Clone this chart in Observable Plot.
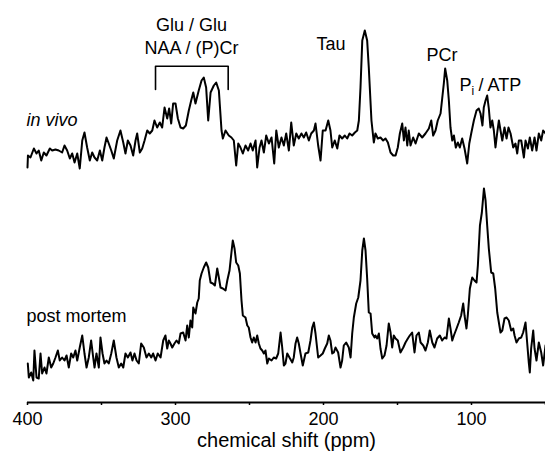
<!DOCTYPE html>
<html><head><meta charset="utf-8">
<script src="https://cdn.jsdelivr.net/npm/d3@7"></script>
<script src="https://cdn.jsdelivr.net/npm/@observablehq/plot@0.6"></script>
<style>
html,body{margin:0;padding:0;background:#fff;}
#chart svg{display:block;}
</style></head><body><div id="chart"></div>
<script>
// [chemical shift (ppm), intensity (a.u., relative to trace baseline)]
const inVivo = [[400.0,-15],[399.7,-3],[398.0,-5],[395.7,4],[393.9,-1],[392.4,2],[390.7,-8],[389.0,0],[387.2,-3],[384.9,4],[383.3,2],[381.1,3],[378.9,2],[376.6,0],[375.0,7],[373.2,2],[371.4,-6],[369.8,-1],[368.2,-10],[366.4,-1],[364.7,-16],[363.0,12],[361.5,20],[359.7,5],[357.9,-8],[356.3,0],[354.7,-5],[352.9,-8],[351.1,2],[349.5,-8],[348.0,5],[346.6,15],[345.1,9],[343.4,2],[341.7,-6],[339.4,12],[337.2,22],[335.3,10],[333.8,-1],[332.2,12],[330.4,7],[328.6,-3],[327.0,12],[325.9,19],[324.1,0],[322.5,4],[320.9,12],[319.1,22],[317.4,19],[315.7,22],[314.2,32],[312.4,25],[310.6,30],[309.0,25],[307.4,45],[305.6,34],[304.3,44],[302.9,29],[301.6,49],[300.0,49],[298.4,34],[296.6,25],[294.8,24],[293.0,27],[291.0,42],[289.4,52],[288.0,60],[286.5,49],[284.3,62],[282.4,72],[280.9,75],[279.3,65],[277.9,32],[276.3,60],[274.1,67],[272.5,70],[270.7,62],[268.9,22],[268.0,14],[266.2,22],[264.0,17],[262.2,15],[260.6,12],[259.0,-13],[257.6,9],[256.1,5],[254.5,-1],[252.7,7],[250.9,2],[249.3,9],[247.8,2],[245.9,12],[244.8,-15],[243.2,5],[241.9,12],[240.3,0],[238.7,17],[236.9,9],[235.1,15],[233.3,-11],[231.9,22],[230.2,5],[228.4,15],[226.8,7],[225.2,19],[223.4,2],[221.8,30],[220.1,7],[218.4,19],[216.7,14],[214.9,19],[213.3,15],[211.7,20],[209.9,12],[208.3,19],[206.5,22],[205.4,29],[203.6,7],[202.0,-8],[200.5,22],[198.6,22],[196.8,32],[195.3,22],[194.1,5],[192.4,12],[190.7,4],[189.2,17],[187.4,14],[185.6,17],[184.0,14],[182.4,19],[180.6,17],[178.8,20],[177.2,22],[176.1,32],[175.0,65],[173.8,112],[172.1,122],[170.5,112],[169.4,85],[167.6,32],[166.0,10],[164.9,19],[163.3,14],[161.5,15],[159.7,12],[158.1,14],[156.5,10],[154.7,0],[152.9,-3],[151.3,-3],[149.8,5],[148.4,19],[146.8,29],[145.7,12],[144.6,25],[143.4,7],[142.4,22],[141.2,7],[139.4,15],[137.8,9],[135.6,19],[133.3,15],[131.1,19],[128.8,24],[127.2,32],[125.9,17],[124.3,22],[122.8,32],[120.9,39],[119.8,54],[118.7,69],[117.8,84],[116.4,72],[115.3,52],[114.2,25],[113.0,12],[111.9,17],[110.6,5],[109.2,10],[107.9,5],[106.3,14],[104.7,4],[102.9,-11],[101.5,9],[100.2,19],[98.4,32],[96.6,42],[95.1,44],[93.9,39],[92.6,27],[91.7,45],[90.5,52],[89.4,57],[88.3,44],[87.2,25],[86.0,32],[84.9,22],[83.8,5],[82.6,20],[81.5,32],[80.4,22],[79.2,12],[77.7,25],[76.3,14],[75.0,25],[73.6,19],[71.8,5],[70.3,9],[69.1,-1],[68.0,12],[66.4,12],[64.6,-5],[63.5,12],[61.9,4],[60.6,15],[59.0,2],[57.4,15],[56.1,2],[54.5,19],[52.9,12],[51.6,22],[50.0,19]];

const postMortem = [[399.8,9],[399.1,-5],[397.5,0],[396.1,-8],[395.3,22],[393.9,-5],[392.4,-6],[391.2,19],[390.1,-1],[388.5,5],[387.2,-1],[385.6,15],[384.0,5],[382.6,9],[381.1,15],[379.5,22],[378.2,12],[376.6,15],[375.0,12],[373.6,17],[372.1,5],[370.5,19],[369.1,15],[367.6,22],[366.4,12],[364.7,25],[363.0,37],[361.5,19],[360.1,5],[358.6,15],[357.0,32],[355.6,15],[354.7,5],[353.4,19],[351.8,5],[350.7,35],[349.3,19],[348.0,9],[346.6,12],[345.1,9],[343.4,19],[341.7,32],[339.9,15],[338.3,5],[336.7,9],[335.3,5],[333.8,19],[332.2,15],[330.4,20],[329.1,12],[327.7,19],[326.3,12],[324.8,9],[323.2,29],[321.4,25],[319.6,15],[318.0,19],[316.4,15],[315.1,19],[313.5,12],[312.0,19],[310.1,15],[308.3,32],[306.8,37],[305.6,24],[304.5,32],[303.4,29],[302.2,25],[300.7,29],[299.3,32],[297.8,29],[296.6,39],[294.8,40],[293.2,32],[292.1,47],[291.0,35],[289.9,52],[288.7,45],[288.0,65],[286.5,59],[285.3,70],[284.3,74],[283.6,92],[282.4,99],[280.9,105],[279.3,110],[277.9,105],[276.3,90],[274.8,89],[273.4,87],[271.8,104],[270.7,95],[269.6,85],[268.0,84],[266.2,82],[265.0,92],[263.5,102],[262.2,120],[261.3,132],[260.1,124],[259.0,110],[257.6,107],[256.5,99],[255.4,72],[254.5,57],[252.7,55],[251.5,47],[250.5,45],[249.3,35],[248.2,30],[247.1,35],[245.9,30],[244.8,37],[243.7,29],[242.6,24],[241.4,22],[240.3,19],[239.2,22],[238.0,9],[236.9,14],[235.1,12],[233.6,15],[232.0,14],[230.6,19],[229.0,40],[227.9,25],[226.8,7],[225.7,9],[224.5,19],[223.0,15],[221.1,10],[220.1,15],[218.9,29],[217.8,35],[216.7,29],[215.5,19],[214.0,7],[212.2,19],[210.3,20],[208.8,32],[207.6,45],[206.5,50],[205.4,39],[203.6,15],[202.0,17],[200.5,19],[199.1,24],[197.5,29],[196.4,37],[195.3,32],[194.1,19],[193.0,20],[191.9,25],[190.1,20],[188.5,5],[187.4,12],[186.3,27],[184.7,30],[182.9,25],[181.7,15],[180.6,39],[179.5,55],[177.9,69],[176.5,75],[175.0,92],[173.8,122],[172.7,134],[171.6,122],[170.5,94],[169.4,60],[168.2,59],[167.1,39],[165.5,35],[164.9,37],[163.7,34],[162.6,39],[161.5,24],[160.3,14],[158.8,17],[157.4,27],[155.9,49],[154.7,40],[153.6,25],[152.5,37],[151.3,34],[149.8,32],[148.0,20],[146.1,25],[144.6,30],[143.0,34],[141.7,37],[140.1,40],[138.5,20],[137.2,37],[135.6,40],[134.4,30],[132.6,27],[131.1,22],[129.5,30],[128.2,42],[126.5,30],[125.0,25],[123.2,34],[121.4,37],[119.8,32],[118.2,35],[116.9,34],[115.3,54],[114.2,44],[113.0,32],[111.9,37],[110.1,44],[108.6,50],[107.0,57],[105.6,69],[104.7,57],[103.4,44],[102.5,57],[101.1,84],[99.5,95],[98.0,92],[96.6,90],[95.7,107],[94.3,147],[93.0,160],[91.6,184],[90.5,172],[89.4,147],[88.3,124],[86.7,100],[85.3,99],[84.0,84],[82.6,60],[81.5,50],[80.4,40],[79.2,42],[77.7,54],[76.3,55],[74.8,52],[73.2,42],[71.8,44],[70.9,37],[69.6,30],[68.0,34],[66.4,35],[65.1,40],[63.5,50],[62.4,30],[61.3,10],[60.6,0],[59.7,24],[58.3,42],[57.4,24],[56.1,12],[54.5,30],[52.9,20],[51.6,7],[50.0,27]];

const xTicks = [400, 350, 300, 250, 200, 150, 100, 50];
const xTickLabels = [400, 300, 200, 100];
const xTitle = "chemical shift (ppm)";
const traceOffsets = {inVivo: 250, postMortem: 30};

const peakLabels = [
  {label: "Glu / Glu", ppm: 289.2, y: 377},
  {label: "NAA / (P)Cr", ppm: 289.2, y: 354.5},
  {label: "Tau", ppm: 194.9, y: 358.5},
  {label: "PCr", ppm: 119.9, y: 347}
];
const piLabel = {main: "P", sub: "i", rest: "/ ATP", ppm: 108.1, y: 317};
const traceLabels = [
  {label: "in vivo", ppm: 400, y: 282, italic: true},
  {label: "post mortem", ppm: 400, y: 86, italic: false}
];
const bracket = [[313.5, 313], [313.5, 336.3], [264.4, 336.3], [264.4, 313]];

const font = "'Liberation Sans', Arial, Helvetica, sans-serif";
const rows = (arr, off) => arr.map(([ppm, v]) => ({ppm, v: v + off}));

const chart = Plot.plot({
  width: 545, height: 456,
  marginLeft: 27, marginRight: 0, marginTop: 0, marginBottom: 54,
  style: {fontFamily: font, background: "white", color: "black", overflow: "visible"},
  x: {domain: [400, 50], axis: null},
  y: {domain: [0, 402], axis: null},
  marks: [
    Plot.ruleY([0], {stroke: "black", strokeWidth: 2}),
    Plot.axisX(xTicks, {tickSize: 3, tickPadding: 7, fontSize: 18, stroke: "black", strokeWidth: 1.5, fill: "black",
      tickFormat: d => xTickLabels.includes(d) ? String(d) : "", label: null}),
    Plot.text([xTitle], {frameAnchor: "bottom", dy: 44, fontSize: 20, fill: "black"}),
    Plot.line(rows(inVivo, traceOffsets.inVivo), {x: "ppm", y: "v", stroke: "black", strokeWidth: 2, strokeLinejoin: "round"}),
    Plot.line(rows(postMortem, traceOffsets.postMortem), {x: "ppm", y: "v", stroke: "black", strokeWidth: 2, strokeLinejoin: "round"}),
    Plot.line(bracket, {x: d => d[0], y: d => d[1], stroke: "black", strokeWidth: 1.6}),
    Plot.text(peakLabels, {x: "ppm", y: "y", text: "label", fontSize: 18, fill: "black"}),
    Plot.text([piLabel], {x: "ppm", y: "y", text: "main", fontSize: 18, textAnchor: "start", fill: "black"}),
    Plot.text([piLabel], {x: "ppm", y: "y", text: "sub", fontSize: 12, textAnchor: "start", dx: 12, dy: 6, fill: "black"}),
    Plot.text([piLabel], {x: "ppm", y: "y", text: "rest", fontSize: 18, textAnchor: "start", dx: 19, fill: "black"}),
    Plot.text(traceLabels.filter(d => d.italic), {x: "ppm", y: "y", text: "label", fontSize: 18, fontStyle: "italic", textAnchor: "start", dx: -1, fill: "black"}),
    Plot.text(traceLabels.filter(d => !d.italic), {x: "ppm", y: "y", text: "label", fontSize: 18, textAnchor: "start", dx: -1, fill: "black"})
  ]
});
document.getElementById("chart").appendChild(chart);
</script>
</body></html>
